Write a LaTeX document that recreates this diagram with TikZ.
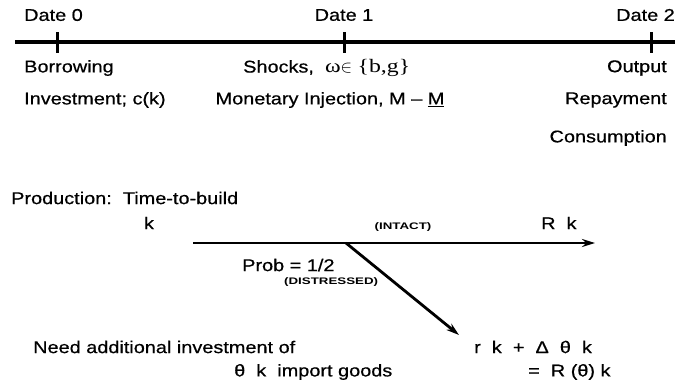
\documentclass[tikz,border=0pt]{standalone}
\usepackage{fontspec}
\setmainfont{Liberation Sans}[FakeStretch=1.17,FakeBold=0.6]
\newfontfamily\smallcapsfont{Liberation Sans Bold}[FakeStretch=1.4]
\newfontfamily\serf{Liberation Serif}[FakeStretch=1.25]
\usetikzlibrary{arrows.meta}
\begin{document}
\begin{tikzpicture}[x=1pt,y=-1pt,
  lbl/.style={inner sep=0pt,font=\fontsize{17}{17}\selectfont},
  tiny/.style={inner sep=0pt,font=\fontsize{9.5}{9.5}\smallcapsfont},
  tline/.style={line width=3.5pt},
  tick/.style={line width=3pt},
  flow/.style={line width=2.8pt,-{Stealth[length=13pt,width=8pt]}}]
\useasboundingbox (0,0) rectangle (675,386);
% timeline
\coordinate (tl0) at (15,42);
\coordinate (tl1) at (675,42);
\draw[tline] (tl0) -- (tl1);
\coordinate (t0a) at (57,32); \coordinate (t0b) at (57,53);
\coordinate (t1a) at (344,32); \coordinate (t1b) at (344,53);
\coordinate (t2a) at (651,32); \coordinate (t2b) at (651,53);
\draw[tick] (t0a) -- (t0b);
\draw[tick] (t1a) -- (t1b);
\draw[tick] (t2a) -- (t2b);
\node[lbl,anchor=west] (d0) at (24,15) {Date 0};
\node[lbl] (d1) at (344,15) {Date 1};
\node[lbl,anchor=east] (d2) at (675,15) {Date 2};
\node[lbl,anchor=west] (bor) at (24,68) {Borrowing};
\node[lbl,anchor=west] (inv) at (24,100) {Investment; c(k)};
\node[lbl,anchor=west] (shk) at (243,68) {Shocks,\ \ {\fontsize{19}{19}\serf ω}$\in$ {\fontsize{19}{19}\serf\{b,g\}}};
\node[lbl] (mon) at (330,100) {Monetary Injection, M -- \underline{M}};
\node[lbl,anchor=east] (out) at (667,68) {Output};
\node[lbl,anchor=east] (rep) at (667,100) {Repayment};
\node[lbl,anchor=east] (con) at (667,138) {Consumption};
% production
\node[lbl,anchor=west] (prod) at (11,198) {Production:\ \ Time-to-build};
\node[lbl] (k) at (149,223) {k};
\coordinate (a0) at (193,243);
\coordinate (br) at (346,243);
\coordinate (a1) at (595,243);
\coordinate (tip) at (459,335);
\draw[flow] (a0) -- (a1);
\draw[flow] (br) -- (tip);
\node[tiny] (int) at (403,227) {(INTACT)};
\node[lbl,anchor=west] (rk) at (541,223) {R\ \ k};
\node[lbl,anchor=west] (prob) at (242,265) {Prob = 1/2};
\node[tiny,anchor=west] (dis) at (284,282) {(DISTRESSED)};
\node[lbl,anchor=west] (need) at (33,347) {Need additional investment of};
\node[lbl,anchor=west] (rkd) at (474,347) {r\ \ k\ \ +\ \ Δ\ \ θ\ \ k};
\node[lbl,anchor=west] (thk) at (234,372) {θ\ \ k\ \ import goods};
\node[lbl,anchor=west] (eq) at (528,372) {=\ \ R (θ) k};
\end{tikzpicture}
\end{document}
